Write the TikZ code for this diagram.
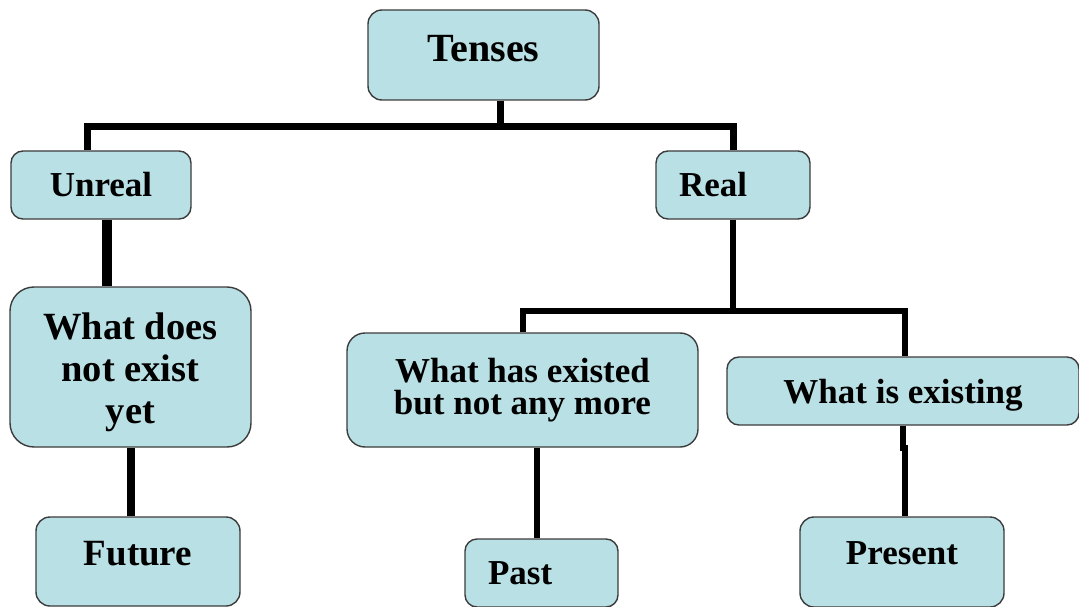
\documentclass[tikz,border=0pt]{standalone}
\usepackage{fontspec}
\setmainfont{Liberation Serif}
\usepackage{tikz}
\usetikzlibrary{calc}
\definecolor{boxcolor}{HTML}{B9E0E4}
\definecolor{edgecolor}{HTML}{3C3C3C}

\begin{document}
\begin{tikzpicture}[x=1pt,y=-1pt,
    box/.style={draw=edgecolor,line width=1.4pt,fill=boxcolor,rounded corners=12pt,inner sep=0pt,
                font=\fontsize{35}{40}\selectfont\bfseries,align=center},
    link/.style={black,line width=#1}]
\useasboundingbox (0,0) rectangle (1079,607);
%% boxes
\node[box,minimum width=231,minimum height=90,rounded corners=14pt,
      font=\fontsize{40}{46}\selectfont\bfseries,text depth=13pt] (tenses) at (483.5,55) {Tenses};
\node[box,minimum width=180,minimum height=68] (unreal) at (101,185) {Unreal};
\node[box,minimum width=154,minimum height=68,text width=108pt,align=left] (real) at (733,185) {Real};
\node[box,minimum width=241,minimum height=160,rounded corners=24pt,
      font=\fontsize{38.5}{42}\selectfont\bfseries] (notyet) at (130.5,367) {\rule{0pt}{37pt}What does\\not exist\\yet};
\node[box,minimum width=351,minimum height=114,rounded corners=18pt,
      font=\fontsize{35}{32}\selectfont\bfseries] (hasbeen) at (522.5,390) {What has existed\\but not any more};
\node[box,minimum width=352,minimum height=68,text depth=0pt] (existing) at (903,391) {What is existing};
\node[box,minimum width=204,minimum height=89,rounded corners=14pt,
      font=\fontsize{37}{42}\selectfont\bfseries,text depth=16pt] (future) at (138,561.5) {Future};
\node[box,minimum width=153,minimum height=68,text width=107pt,align=left] (past) at (541.5,573) {Past};
\node[box,minimum width=204,minimum height=90,rounded corners=14pt,text depth=18pt] (present) at (902,562) {Present};
%% connectors
\coordinate (top) at (500,127);
\coordinate (mid) at (733,311);
\draw[link=7pt] (tenses.south -| top) -- (top);
\draw[link=7pt] ([xshift=-14pt]unreal.north) |- (top) -| (real.north);
\draw[link=10pt] ([xshift=6pt]unreal.south) -- ([xshift=-23.5pt]notyet.north);
\draw[link=8pt] ([xshift=0.5pt]notyet.south) -- ([xshift=-7pt]future.north);
\draw[link=6pt] (real.south) -- (mid);
\draw[link=6pt] (hasbeen.north) |- (mid) -| ([xshift=2pt]existing.north);
\draw[link=6.5pt] ([xshift=14.5pt]hasbeen.south) -- ([xshift=-4.5pt]past.north);
\draw[link=6pt] (existing.south) -- ++(0,22) -- ++(2,0) -- ([xshift=3pt]present.north);
\end{tikzpicture}
\end{document}
